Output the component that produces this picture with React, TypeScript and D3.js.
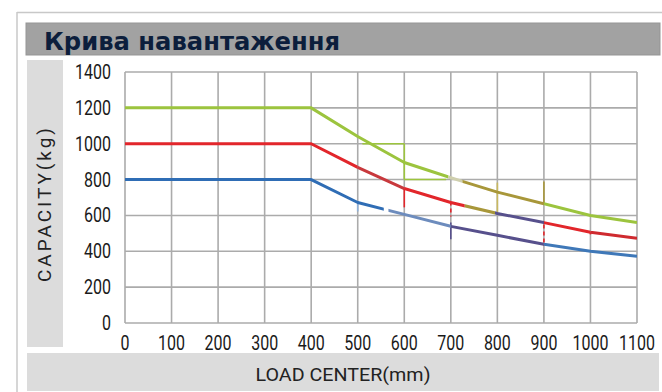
import React from "react";
import * as d3 from "d3";

const title = "Крива навантаження";
const yAxisTitle = "CAPACITY(kg)";
const xAxisTitle = "LOAD CENTER(mm)";

const loadCenters = [0, 100, 200, 300, 400, 500, 600, 700, 800, 900, 1000, 1100];
const capGreen = [1200, 1200, 1200, 1200, 1200, 1040, 895, 810, 730, 665, 600, 560];
const capRed = [1000, 1000, 1000, 1000, 1000, 868, 750, 672, 611, 560, 506, 472];
const capBlue = [800, 800, 800, 800, 800, 672, 606, 539, 489, 439, 400, 372];

const xTicks = [0, 100, 200, 300, 400, 500, 600, 700, 800, 900, 1000, 1100];
const yTicks = [0, 200, 400, 600, 800, 1000, 1200, 1400];

// colored pieces of each curve: [from, to, color]
const greenPieces: [number, number, string][] = [
  [0, 695, "#9cc43e"],
  [695, 725, "#cfcfae"],
  [725, 900, "#a8973a"],
  [900, 1100, "#9cc43e"],
];
const redPieces: [number, number, string][] = [
  [0, 500, "#e2262b"],
  [500, 600, "#c8393d"],
  [600, 730, "#e2262b"],
  [730, 795, "#a8973a"],
  [795, 900, "#57508c"],
  [900, 1000, "#e2262b"],
  [1000, 1100, "#cf2a2f"],
];
const bluePieces: [number, number, string][] = [
  [0, 556, "#2f6db5"],
  [566, 700, "#6d8cbd"],
  [700, 900, "#57508c"],
  [900, 1100, "#3f78b8"],
];

// stray marks of the original drawing: [x1, y1, x2, y2, color, dashed]
const strayMarks: [number, number, number, number, string, boolean][] = [
  [510, 1000, 600, 1000, "#9cc43e", false],
  [600, 1000, 600, 800, "#9cc43e", false],
  [600, 800, 690, 800, "#9cc43e", false],
  [600, 750, 600, 645, "#e2262b", false],
  [700, 678, 700, 594, "#e2262b", true],
  [700, 560, 700, 467, "#57508c", false],
  [800, 783, 800, 617, "#c9b960", false],
  [900, 789, 900, 661, "#a8973a", false],
  [900, 550, 900, 430, "#e2262b", true],
  [500, 672, 500, 622, "#8fb0d8", false],
  [1000, 506, 1000, 494, "#e2262b", false],
];

const W = 662;
const H = 392;
const plot = { left: 125, right: 637, top: 72, bottom: 323 };
const tickFont = "Roboto, 'Liberation Sans', sans-serif";

export default function App() {
  const x = d3.scaleLinear().domain([0, 1100]).range([plot.left, plot.right]);
  const y = d3.scaleLinear().domain([0, 1400]).range([plot.bottom, plot.top]);

  const line = d3
    .line<number>()
    .x((_, i) => x(loadCenters[i]))
    .y((d) => y(d))
    .curve(d3.curveLinear);

  const series = [
    { id: "g", values: capGreen, pieces: greenPieces },
    { id: "r", values: capRed, pieces: redPieces },
    { id: "b", values: capBlue, pieces: bluePieces },
  ];

  const gridColor = "#ababab";

  return (
    <svg
      width={W}
      height={H}
      style={{ position: "absolute", left: 0, top: 0, background: "#fff" }}
    >
      <defs>
        {series.map((s) =>
          s.pieces.map((p, j) => (
            <clipPath id={`clip-${s.id}-${j}`} key={`${s.id}-${j}`}>
              <rect x={x(p[0])} y={0} width={x(p[1]) - x(p[0])} height={H} />
            </clipPath>
          ))
        )}
      </defs>
      <rect x={0} y={0} width={W} height={H} fill="#fff" />
      {/* outer frame */}
      <line x1={17} y1={12.5} x2={W} y2={12.5} stroke="#c8c8c8" strokeWidth={1.5} />
      <line x1={17} y1={12} x2={17} y2={H} stroke="#c8c8c8" strokeWidth={1.5} />

      {/* title band */}
      <rect x={26} y={23} width={634} height={32} fill="#a2a2a2" stroke="#959595" strokeWidth={1} />
      <text
        x={44}
        y={50}
        fontFamily="'DejaVu Sans', 'Liberation Sans', sans-serif"
        fontWeight="bold"
        fontSize={24}
        fill="#0c1e3c"
        textLength={296}
        lengthAdjust="spacingAndGlyphs"
      >
        {title}
      </text>

      {/* y title band */}
      <rect x={27} y={60} width={36} height={287} fill="#dcdcdc" />
      <text
        transform={`translate(51,205) rotate(-90)`}
        textAnchor="middle"
        fontFamily={tickFont}
        fontSize={19}
        fill="#222"
        textLength={154}
        lengthAdjust="spacing"
      >
        {yAxisTitle}
      </text>

      {/* x title band */}
      <rect x={27} y={353} width={632} height={38} fill="#dcdcdc" />
      <text
        x={343}
        y={381}
        textAnchor="middle"
        fontFamily={tickFont}
        fontSize={19}
        fill="#222"
        textLength={175}
        lengthAdjust="spacingAndGlyphs"
      >
        {xAxisTitle}
      </text>

      {/* grid */}
      {xTicks.map((t) => (
        <line key={`gx${t}`} x1={x(t)} x2={x(t)} y1={plot.top} y2={plot.bottom} stroke={gridColor} strokeWidth={1.6} />
      ))}
      {yTicks.map((t) => (
        <line key={`gy${t}`} x1={plot.left} x2={plot.right} y1={y(t)} y2={y(t)} stroke={gridColor} strokeWidth={1.6} />
      ))}

      {/* tick labels */}
      {yTicks.map((t) => (
        <text
          key={`ty${t}`}
          transform={`translate(111,${y(t) + 7}) scale(0.8,1)`}
          textAnchor="end"
          fontFamily={tickFont}
          fontSize={20}
          fill="#1a1a1a"
        >
          {t}
        </text>
      ))}
      {xTicks.map((t) => (
        <text
          key={`tx${t}`}
          transform={`translate(${x(t)},350) scale(0.8,1)`}
          textAnchor="middle"
          fontFamily={tickFont}
          fontSize={20}
          fill="#1a1a1a"
        >
          {t}
        </text>
      ))}

      {/* stray marks */}
      {strayMarks.map((m, i) => (
        <line
          key={`m${i}`}
          x1={x(m[0])}
          y1={y(m[1])}
          x2={x(m[2])}
          y2={y(m[3])}
          stroke={m[4]}
          strokeWidth={1.6}
          strokeDasharray={m[5] ? "4,3" : undefined}
        />
      ))}

      {/* curves */}
      {series.map((s) =>
        s.pieces.map((p, j) => (
          <path
            key={`p-${s.id}-${j}`}
            d={line(s.values) || ""}
            fill="none"
            stroke={p[2]}
            strokeWidth={3}
            strokeLinejoin="round"
            clipPath={`url(#clip-${s.id}-${j})`}
          />
        ))
      )}
    </svg>
  );
}
